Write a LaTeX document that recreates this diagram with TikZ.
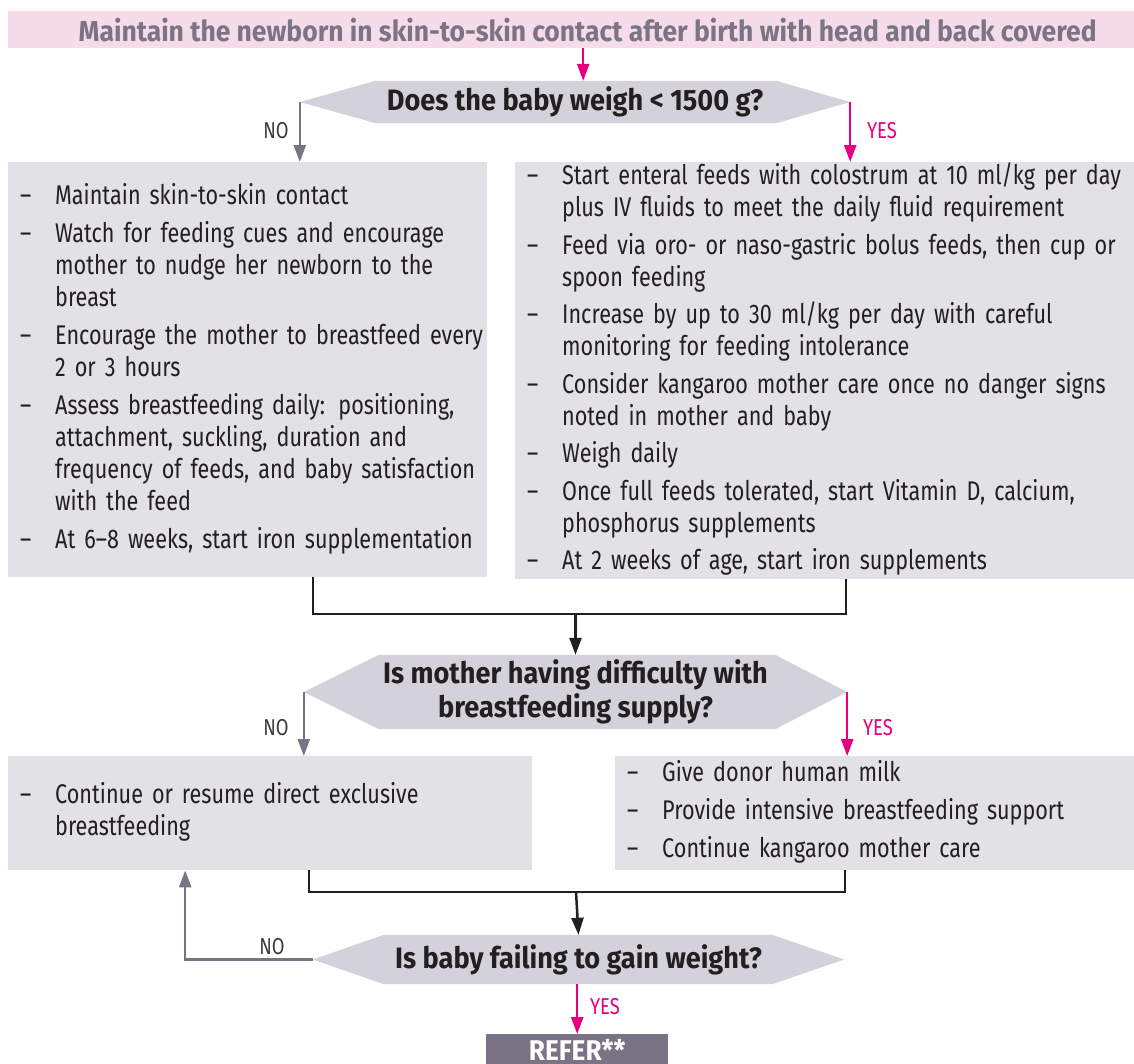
\documentclass[tikz,border=0pt]{standalone}
\usepackage{fontspec}
\setmainfont{Fira Sans}[FakeStretch=0.80, BoldFeatures={FakeStretch=0.92}]
\usetikzlibrary{arrows.meta,calc}
\pgfdeclarelayer{bg}
\pgfsetlayers{bg,main}
\definecolor{pinkfill}{HTML}{F5DCE8}
\definecolor{bannertxt}{HTML}{7B7486}
\definecolor{mypink}{HTML}{E6007E}
\definecolor{grayarrow}{HTML}{7A7385}
\definecolor{decfill}{HTML}{D3D2DA}
\definecolor{boxfill}{HTML}{E2E1E6}
\definecolor{txt}{HTML}{231F20}
\definecolor{lbl}{HTML}{3A3A3A}
\tikzset{
  banner/.style={fill=pinkfill, text=bannertxt, inner sep=0pt, anchor=north west,
    font=\bfseries\fontsize{28.8}{32}\selectfont},
  dec/.style={inner sep=0pt, text=txt, align=center,
    font=\bfseries\fontsize{29.5}{34}\selectfont},
  decbg/.style={fill=decfill},
  infobox/.style={fill=boxfill, text=txt, anchor=north west, inner xsep=12pt, inner ysep=0pt,
    align=left, font=\fontsize{27}{32}\selectfont},
  yeslbl/.style={text=mypink, inner sep=0pt, font=\fontsize{23}{26}\selectfont},
  nolbl/.style={text=lbl, inner sep=0pt, font=\fontsize{23}{26}\selectfont},
  tip/.style={-{Triangle[width=12pt,length=17pt]}},
  pinkarr/.style={tip, draw=mypink, line width=2.5pt},
  grayarr/.style={tip, draw=grayarrow, line width=2.5pt},
  blackarr/.style={tip, draw=txt, line width=2.5pt},
  bracket/.style={draw=txt, line width=2.5pt},
  referbox/.style={fill=grayarrow, text=white, anchor=north west, inner sep=0pt,
    font=\bfseries\fontsize{28.5}{32}\selectfont},
}
\begin{document}
\begin{tikzpicture}[x=1pt,y=-1pt]
\useasboundingbox (0,0) rectangle (1134,1063);

% banner
\node[banner, minimum width=1126pt, minimum height=37pt] (B) at (8,11)
  {\hspace*{33pt}Maintain the newborn in skin-to-skin contact after birth with head and back covered};

% decision 1
\node[dec, minimum width=550pt, minimum height=42pt] (D1) at (575,102)
  {Does the baby weigh < 1500 g?};
\begin{pgfonlayer}{bg}
\fill[decbg] (D1.west) -- ([xshift=76pt]D1.north west) -- ([xshift=-74pt]D1.north east)
  -- (D1.east) -- ([xshift=-74pt]D1.south east) -- ([xshift=76pt]D1.south west) -- cycle;
\end{pgfonlayer}

% boxes row 1
\node[infobox, minimum width=479pt, minimum height=415pt, text width=455pt] (L) at (8,162)
{\noindent\begin{tabular}{@{}p{35pt}@{}l@{}}
– & Maintain skin-to-skin contact\\[6pt]
– & Watch for feeding cues and encourage\\
  & mother to nudge her newborn to the\\
  & breast\\[6pt]
– & Encourage the mother to breastfeed every\\
  & 2 or 3 hours\\[6pt]
– & Assess breastfeeding daily: positioning,\\
  & attachment, suckling, duration and\\
  & frequency of feeds, and baby satisfaction\\
  & with the feed\\[6pt]
– & At 6–8 weeks, start iron supplementation
\end{tabular}};

\node[infobox, minimum width=619pt, minimum height=415pt, text width=595pt] (R) at (515,162)
{\noindent\begin{tabular}{@{}p{35pt}@{}l@{}}
– & Start enteral feeds with colostrum at 10 ml/kg per day\\
  & plus IV fluids to meet the daily fluid requirement\\[5.5pt]
– & Feed via oro- or naso-gastric bolus feeds, then cup or\\
  & spoon feeding\\[5.5pt]
– & Increase by up to 30 ml/kg per day with careful\\
  & monitoring for feeding intolerance\\[5.5pt]
– & Consider kangaroo mother care once no danger signs\\
  & noted in mother and baby\\[5.5pt]
– & Weigh daily\\[5.5pt]
– & Once full feeds tolerated, start Vitamin D, calcium,\\
  & phosphorus supplements\\[5.5pt]
– & At 2 weeks of age, start iron supplements
\end{tabular}};

% decision 2
\node[dec, minimum width=543pt, minimum height=74pt] (D2) at (575.5,692)
  {Is mother having difficulty with\\breastfeeding supply?};
\begin{pgfonlayer}{bg}
\fill[decbg] (D2.west) -- ([xshift=75pt]D2.north west) -- ([xshift=-72pt]D2.north east)
  -- (D2.east) -- ([xshift=-72pt]D2.south east) -- ([xshift=75pt]D2.south west) -- cycle;
\end{pgfonlayer}

% boxes row 2
\node[infobox, minimum width=524pt, minimum height=114pt, text width=500pt] (L2) at (8,756)
{\noindent\begin{tabular}{@{}p{35pt}@{}l@{}}
– & Continue or resume direct exclusive\\
  & breastfeeding
\end{tabular}};

\node[infobox, minimum width=519pt, minimum height=114pt, text width=495pt] (R2) at (615,756)
{\noindent\begin{tabular}{@{}p{35pt}@{}l@{}}
– & Give donor human milk\\[6pt]
– & Provide intensive breastfeeding support\\[6pt]
– & Continue kangaroo mother care
\end{tabular}};

% decision 3
\node[dec, minimum width=531pt, minimum height=49pt] (D3) at (578.5,959.5)
  {Is baby failing to gain weight?};
\begin{pgfonlayer}{bg}
\fill[decbg] (D3.west) -- ([xshift=71pt]D3.north west) -- ([xshift=-72pt]D3.north east)
  -- (D3.east) -- ([xshift=-72pt]D3.south east) -- ([xshift=71pt]D3.south west) -- cycle;
\end{pgfonlayer}

% refer
\node[referbox, minimum width=182pt, minimum height=31pt] (F) at (486,1034) {REFER**};

% labels
\node[nolbl] (n1) at (276,131) {NO};
\node[yeslbl] (y1) at (882,131) {YES};
\node[nolbl] (n2) at (276,728) {NO};
\node[yeslbl] (y2) at (878,728) {YES};
\node[nolbl] (n3) at (272,947) {NO};
\node[yeslbl] (y3) at (605,1007) {YES};

% connectors
\draw[pinkarr] ([xshift=12pt]B.south) -- ([xshift=12pt]B.south |- D1.north);
\draw[grayarr] (D1.west) -- (D1.west |- L.north);
\draw[pinkarr] (D1.east) -- (D1.east |- R.north);

\coordinate (j1) at (575.5,614);
\draw[bracket] ([xshift=65.5pt]L.south) |- (j1) -| ([xshift=21.5pt]R.south);
\draw[blackarr] (j1) -- (D2.north);

\draw[grayarr] (D2.west) -- (D2.west |- L2.north);
\draw[pinkarr] (D2.east) -- (D2.east |- R2.north);

\coordinate (j2) at (576,892);
\draw[bracket] ([xshift=39pt]L2.south) |- (j2) -| ([xshift=-29.5pt]R2.south);
\draw[blackarr] (j2) -- (D3.north);

\draw[grayarr] (D3.west) -| ([xshift=-85pt]L2.south);
\draw[pinkarr] (D3.south -| F.north) -- (F.north);
\end{tikzpicture}
\end{document}
